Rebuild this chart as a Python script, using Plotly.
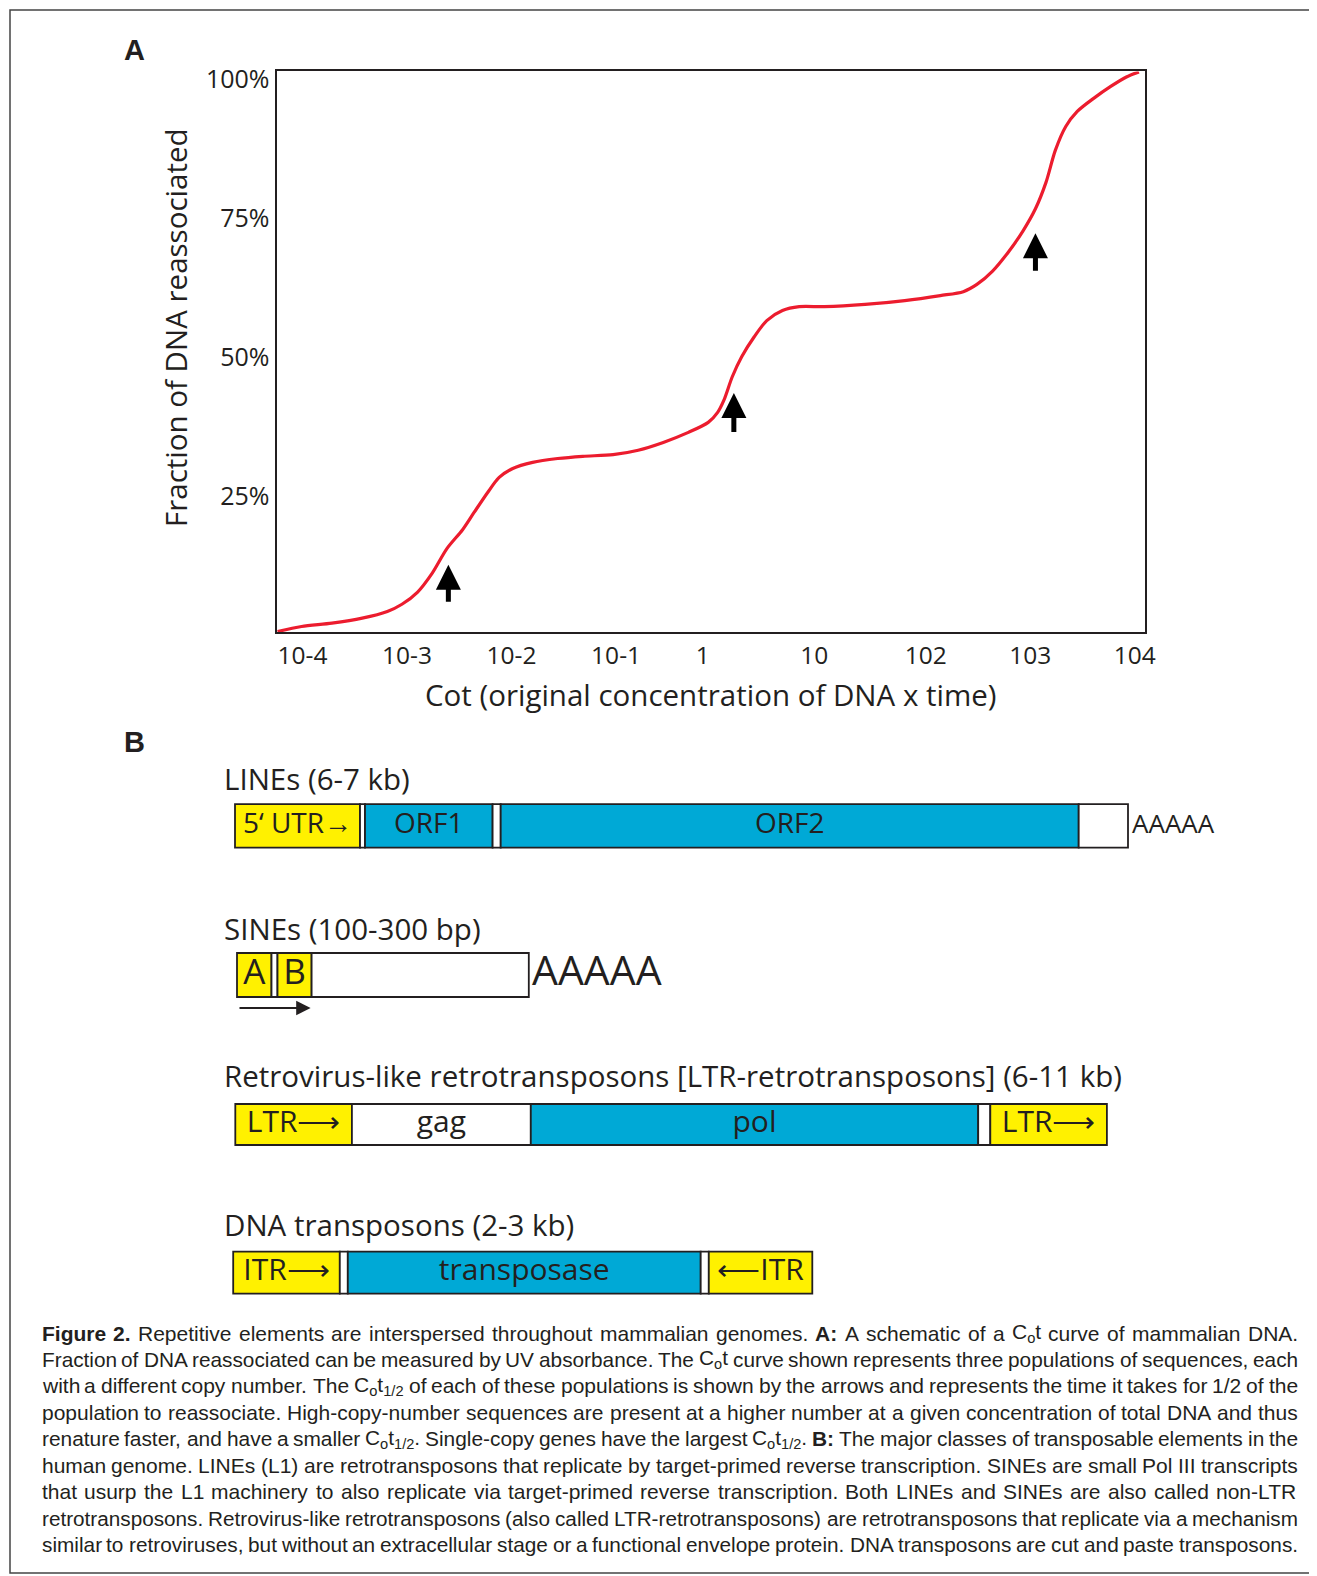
import re
import plotly.graph_objects as go

# page is offset by the default 8px body margin
OX, OY = 8, 8
FW, FH = 1317 - OX, 1576 - OY

# ---------------- Panel A data ----------------
cot_log = [-3.99, -3.76, -3.47, -3.18, -2.94, -2.80, -2.65, -2.51, -2.37, -2.22, -2.11, -1.98,
           -1.87, -1.74, -1.55, -1.31, -1.07, -0.78, -0.54, -0.30, -0.06, 0.13, 0.22, 0.28,
           0.36, 0.45, 0.57, 0.69, 0.84, 1.00, 1.24, 1.63, 2.01, 2.35, 2.57, 2.70, 2.85,
           3.00, 3.14, 3.26, 3.36, 3.45, 3.55, 3.66, 3.82, 3.98, 4.13, 4.25]
frac_reassoc = [0.7, 1.6, 2.2, 3.1, 4.3, 5.6, 7.8, 11.2, 15.6, 19.0, 22.1, 25.7,
                28.4, 30.0, 31.1, 31.8, 32.2, 32.5, 33.3, 34.7, 36.5, 38.3, 40.1, 42.3,
                46.5, 50.1, 53.7, 56.6, 58.4, 59.1, 59.1, 59.5, 60.2, 61.1, 61.8, 63.1, 65.5,
                68.9, 72.7, 76.7, 81.4, 87.2, 91.5, 94.2, 96.6, 98.7, 100.4, 101.3]
x_tickvals = [-4, -3, -2, -1, 0, 1, 2, 3, 4]
x_ticktext = ["10-4", "10-3", "10-2", "10-1", "1", "10", "102", "103", "104"]
y_tickvals = [25, 50, 75, 100]
y_ticktext = ["25%", "50%", "75%", "100%"]
arrow_x = [-2.356, 0.375, 3.26]
arrow_tip = [12.7, 43.6, 72.3]
arrow_tail = [5.8, 36.3, 65.3]

# ---------------- Panel B data ----------------
element_titles = ["LINEs (6-7 kb)", "SINEs (100-300 bp)",
                  "Retrovirus-like retrotransposons [LTR-retrotransposons] (6-11 kb)",
                  "DNA transposons (2-3 kb)"]
line_bounds = [235, 360, 365, 492.6, 500.7, 1078.7, 1128]
line_kinds = ["yellow", "gap", "blue", "gap", "blue", "gap"]
line_labels = ["5‘ UTR→", "", "ORF1", "", "ORF2", ""]
sine_bounds = [237, 271.5, 277.5, 311.6, 528.8]
sine_kinds = ["yellow", "gap", "yellow", "gap"]
sine_labels = ["A", "", "B", ""]
ltr_bounds = [235.3, 351.9, 530.8, 978.2, 990.3, 1106.9]
ltr_kinds = ["yellow", "gap", "blue", "gap", "yellow"]
ltr_labels = ["LTR⟶", "gag", "pol", "", "LTR⟶"]
dna_bounds = [233.2, 339.8, 347.8, 700.7, 708.8, 812.3]
dna_kinds = ["yellow", "gap", "blue", "gap", "yellow"]
dna_labels = ["ITR⟶", "", "transposase", "", "⟵ITR"]
polyA_text = ["AAAAA", "AAAAA"]

caption_lines = [
    "<b>Figure 2.</b> Repetitive elements are interspersed throughout mammalian genomes. <b>A:</b> A schematic of a C<sub>o</sub>t curve of mammalian DNA.",
    "Fraction of DNA reassociated can be measured by UV absorbance. The C<sub>o</sub>t curve shown represents three populations of sequences, each",
    "with a different copy number. The C<sub>o</sub>t<sub>1/2</sub> of each of these populations is shown by the arrows and represents the time it takes for 1/2 of the",
    "population to reassociate. High-copy-number sequences are present at a higher number at a given concentration of total DNA and thus",
    "renature faster, and have a smaller C<sub>o</sub>t<sub>1/2</sub>. Single-copy genes have the largest C<sub>o</sub>t<sub>1/2</sub>. <b>B:</b> The major classes of transposable elements in the",
    "human genome. LINEs (L1) are retrotransposons that replicate by target-primed reverse transcription. SINEs are small Pol III transcripts",
    "that usurp the L1 machinery to also replicate via target-primed reverse transcription. Both LINEs and SINEs are also called non-LTR",
    "retrotransposons. Retrovirus-like retrotransposons (also called LTR-retrotransposons) are retrotransposons that replicate via a mechanism",
    "similar to retroviruses, but without an extracellular stage or a functional envelope protein. DNA transposons are cut and paste transposons.",
]

# ---------------- styles / layout ----------------
INK = "#231f20"
RED = "#ec1c2e"
KIND_COLORS = {"yellow": "#fff100", "blue": "#00a9d6", "gap": "#ffffff"}
CHART_FONT = "Open Sans"
CAP_FONT = "Liberation Sans"
CAP_SIZE = 21.0

row_y = [825.8, 975.0, 1124.5, 1272.7]
row_h = [43.5, 44.0, 41.0, 42.0]
title_y = [778, 928, 1075, 1224.5]
title_x = 222
label_sizes = [28, 35, 30, 30]

def px_x(p):
    return (p - OX) / FW

def px_y(p):
    return 1 - (p - OY) / FH

fig = go.Figure()

# Panel A curve
fig.add_trace(go.Scatter(x=cot_log, y=frac_reassoc, mode="lines",
                         line=dict(color=RED, width=3.2, shape="spline", smoothing=0.8),
                         hoverinfo="skip", showlegend=False, cliponaxis=False))

# Panel B bars (single trace)
elements = [(line_bounds, line_kinds, line_labels),
            (sine_bounds, sine_kinds, sine_labels),
            (ltr_bounds, ltr_kinds, ltr_labels),
            (dna_bounds, dna_kinds, dna_labels)]
bx, bbase, by, bw, bcol = [], [], [], [], []
tx, ty, tt, ts = [], [], [], []
for i, (bounds, kinds, labels) in enumerate(elements):
    for j, kind in enumerate(kinds):
        s, e = bounds[j], bounds[j + 1]
        bx.append(e - s)
        bbase.append(s)
        by.append(row_y[i])
        bw.append(row_h[i])
        bcol.append(KIND_COLORS[kind])
        if labels[j]:
            tx.append((s + e) / 2)
            ty.append(row_y[i])
            tt.append(labels[j])
            ts.append(label_sizes[i])

fig.add_trace(go.Bar(x=bx, base=bbase, y=by, width=bw, orientation="h",
                     marker=dict(color=bcol, line=dict(color=INK, width=1.8)),
                     xaxis="x2", yaxis="y2", hoverinfo="skip", showlegend=False))
fig.add_trace(go.Scatter(x=tx, y=ty, text=tt, mode="text", textposition="middle center",
                         textfont=dict(family=CHART_FONT, size=ts, color=INK),
                         xaxis="x2", yaxis="y2", hoverinfo="skip", showlegend=False))

annotations = []
# arrows in panel A
for xa, tip, tail in zip(arrow_x, arrow_tip, arrow_tail):
    annotations.append(dict(x=xa, y=tip, ax=xa, ay=tail, xref="x", yref="y", axref="x", ayref="y",
                            showarrow=True, arrowhead=2, arrowwidth=5, arrowsize=1.0,
                            arrowcolor="#000000", text=""))

# y-axis title (placed slightly above the plot centre, as in the reference)
annotations.append(dict(x=175, y=328, xref="x2", yref="y2", text="Fraction of DNA reassociated",
                        textangle=-90, showarrow=False,
                        font=dict(family=CHART_FONT, size=29.5, color=INK)))

# panel labels
annotations.append(dict(x=134, y=50, xref="x2", yref="y2", text="<b>A</b>", showarrow=False,
                        font=dict(family="Liberation Sans", size=29, color=INK)))
annotations.append(dict(x=134, y=742, xref="x2", yref="y2", text="<b>B</b>", showarrow=False,
                        font=dict(family="Liberation Sans", size=29, color=INK)))

# element titles
for t, yv in zip(element_titles, title_y):
    annotations.append(dict(x=title_x, y=yv, xref="x2", yref="y2", text=t, showarrow=False,
                            xanchor="left", yanchor="middle",
                            font=dict(family=CHART_FONT, size=29.5, color=INK)))

# poly-A tails
annotations.append(dict(x=line_bounds[-1] + 2, y=row_y[0] - 3, xref="x2", yref="y2", text=polyA_text[0],
                        showarrow=False, xanchor="left", yanchor="middle",
                        font=dict(family=CHART_FONT, size=26, color=INK)))
annotations.append(dict(x=sine_bounds[-1] + 1, y=row_y[1] - 6, xref="x2", yref="y2", text=polyA_text[1],
                        showarrow=False, xanchor="left", yanchor="middle",
                        font=dict(family=CHART_FONT, size=41, color=INK)))
# SINE transcription arrow
annotations.append(dict(x=sine_bounds[3] - 1, y=1008, ax=sine_bounds[0] + 1, ay=1008,
                        xref="x2", yref="y2", axref="x2", ayref="y2", text="",
                        showarrow=True, arrowhead=2, arrowwidth=1.8, arrowsize=1.6, arrowcolor=INK))

# ---------------- justified caption ----------------
# Arial / Liberation Sans advance widths (per 1000 em)
_W = {" ": 278, "!": 278, "%": 889, "(": 333, ")": 333, ",": 278, "-": 333, ".": 278, "/": 278,
      ":": 278, ";": 278, "[": 278, "]": 278}
for c in "0123456789":
    _W[c] = 556
_W.update(dict(A=667, B=667, C=722, D=722, E=667, F=611, G=778, H=722, I=278, J=500, K=667, L=556,
               M=833, N=722, O=778, P=667, Q=778, R=722, S=667, T=611, U=722, V=667, W=944, X=667,
               Y=667, Z=611, a=556, b=556, c=500, d=556, e=556, f=278, g=556, h=556, i=222, j=222,
               k=500, l=222, m=833, n=556, o=556, p=556, q=556, r=333, s=500, t=278, u=556, v=500,
               w=722, x=500, y=500, z=500))
_WB = dict(_W)
_WB.update({"A": 722, "B": 722, "F": 611, "g": 611, "u": 611, "r": 389, "i": 278, ":": 333})


def parse_chars(s):
    out, bold, sub = [], False, False
    for tok in re.split(r"(</?(?:b|sub)>)", s):
        if tok == "<b>":
            bold = True
        elif tok == "</b>":
            bold = False
        elif tok == "<sub>":
            sub = True
        elif tok == "</sub>":
            sub = False
        else:
            out.extend((ch, bold, sub) for ch in tok)
    return out


def word_html(chars):
    html, i = "", 0
    while i < len(chars):
        b, sb = chars[i][1], chars[i][2]
        j = i
        while j < len(chars) and chars[j][1] == b and chars[j][2] == sb:
            j += 1
        seg = "".join(c[0] for c in chars[i:j])
        if sb:
            seg = "<sub>" + seg + "</sub>"
        if b:
            seg = "<b>" + seg + "</b>"
        html += seg
        i = j
    return html


def word_width(chars, size):
    w = 0.0
    for ch, b, sb in chars:
        table = _WB if b else _W
        w += table.get(ch, 556) * (0.7 if sb else 1.0)
    return w * size / 1000.0


cap_left, cap_right = 41.5, 1298.0
cap_y0, cap_dy = 1333.0, 26.45
for k, line in enumerate(caption_lines):
    chars = parse_chars(line)
    words, cur = [], []
    for c in chars:
        if c[0] == " ":
            if cur:
                words.append(cur)
            cur = []
        else:
            cur.append(c)
    if cur:
        words.append(cur)
    size = CAP_SIZE
    total = cap_right - cap_left
    natural = sum(word_width(w, size) for w in words) + (len(words) - 1) * 230 * size / 1000
    if natural > total:
        size = size * total / natural
    widths = [word_width(w, size) for w in words]
    gap = (total - sum(widths)) / (len(words) - 1)
    xpos = cap_left
    yv = cap_y0 + k * cap_dy
    for w, wd in zip(words, widths):
        annotations.append(dict(x=xpos, y=yv, xref="x2", yref="y2", text=word_html(w),
                                showarrow=False, xanchor="left", yanchor="middle",
                                borderpad=0, borderwidth=0,
                                font=dict(family=CAP_FONT, size=size, color=INK)))
        xpos += wd + gap

fig.update_layout(
    width=FW, height=FH, margin=dict(l=0, r=0, t=0, b=0),
    paper_bgcolor="white", plot_bgcolor="rgba(0,0,0,0)",
    barmode="overlay", showlegend=False,
    xaxis=dict(domain=[px_x(276.5), px_x(1145)], range=[-4, 4.308], anchor="y",
               tickvals=x_tickvals, ticktext=x_ticktext, ticks="", ticklabelposition="outside right",
               tickfont=dict(family=CHART_FONT, size=24.5, color=INK),
               showline=True, mirror=True, linecolor=INK, linewidth=2,
               showgrid=False, zeroline=False, automargin=False,
               title=dict(text="Cot (original concentration of DNA x time)", standoff=16,
                          font=dict(family=CHART_FONT, size=29.5, color=INK))),
    yaxis=dict(domain=[px_y(632.4), px_y(71.4)], range=[0.54, 101.4], anchor="x",
               tickvals=y_tickvals, ticktext=y_ticktext, ticks="",
               tickfont=dict(family=CHART_FONT, size=25, color=INK),
               showline=True, mirror=True, linecolor=INK, linewidth=2,
               showgrid=False, zeroline=False, automargin=False),
    xaxis2=dict(domain=[0, 1], range=[OX, OX + FW], anchor="y2", visible=False, fixedrange=True),
    yaxis2=dict(domain=[0, 1], range=[OY + FH, OY], anchor="x2", visible=False, fixedrange=True),
    annotations=annotations,
    shapes=[dict(type="rect", xref="paper", yref="paper", x0=px_x(10), x1=px_x(1312),
                 y0=px_y(1573), y1=px_y(10), line=dict(color="#444444", width=1.5),
                 fillcolor="rgba(0,0,0,0)", layer="below")],
)

fig.write_html("out.html")
